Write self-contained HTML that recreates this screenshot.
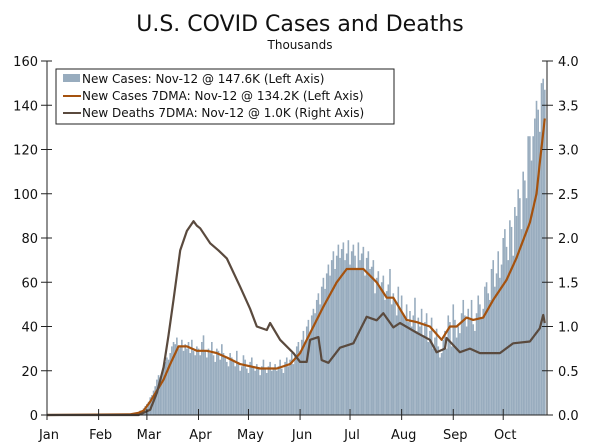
<!DOCTYPE html>
<html><head><meta charset="utf-8"><style>
body{margin:0;background:#fff;}
svg{display:block;font-family:"DejaVu Sans","Liberation Sans",sans-serif;}
</style></head><body>
<svg id="chart" width="600" height="447" viewBox="0 0 600 447" xmlns="http://www.w3.org/2000/svg">
<text x="300" y="31" text-anchor="middle" font-size="22" fill="#111">U.S. COVID Cases and Deaths</text>
<text x="300" y="49" text-anchor="middle" font-size="12" fill="#111">Thousands</text>
<g id="bars"></g>
<g id="lines"></g>
<g id="axes"></g>
<g>
<rect x="56" y="69" width="338" height="55" fill="#fff" stroke="#222" stroke-width="1"/>
<rect x="63" y="74" width="17" height="8" fill="#98acbe"/>
<text x="82" y="83" font-size="12" fill="#111">New Cases: Nov-12 @ 147.6K (Left Axis)</text>
<line x1="63" y1="96" x2="81" y2="96" stroke="#a5520e" stroke-width="2"/>
<text x="82" y="100" font-size="12" fill="#111">New Cases 7DMA: Nov-12 @ 134.2K (Left Axis)</text>
<line x1="63" y1="113" x2="81" y2="113" stroke="#5a4a3e" stroke-width="2"/>
<text x="82" y="117" font-size="12" fill="#111">New Deaths 7DMA: Nov-12 @ 1.0K (Right Axis)</text>
</g>
</svg>
<script>
const barStartDay = 55;
const barValues = [1,2,2,3,4,5,6,
8,9,11,13,16,18,17,
19,21,24,26,25,28,31,
33,32,35,30,31,34,29,
32,30,33,28,34,29,27,
31,30,27,33,36,29,26,
30,28,33,27,24,30,29,
25,32,28,26,24,22,28,
26,25,22,29,24,20,22,
27,25,21,19,24,26,22,
20,23,21,18,22,25,21,
19,22,24,20,21,23,20,
22,25,21,19,24,26,22,
25,28,23,27,31,33,29,
34,38,33,40,43,37,45,
48,46,52,55,50,58,62,
57,64,68,63,70,74,66,
72,77,71,75,78,70,73,
79,68,74,77,72,66,78,
70,73,76,63,71,74,66,
67,70,55,62,65,58,60,
63,52,56,59,66,50,55,
52,45,58,48,54,46,44,
50,42,47,40,45,53,38,
44,40,48,36,42,46,33,
38,44,30,35,39,31,26,
28,34,38,30,45,42,31,
50,43,35,40,37,46,52,
45,40,48,43,52,41,38,
46,54,50,44,48,58,60,
55,52,66,70,58,64,74,
62,68,80,84,76,70,88,
85,72,94,90,102,98,84,
110,106,98,126,126,115,126,
134,142,138,128,150,152,147];
const casesDays = [0,50,55,58,62,66,70,74,79,84,90,96,102,108,116,128,138,146,152,158,166,174,180,190,198,204,208,216,222,230,237,242,246,252,256,262,268,276,282,286,290,294,296,299];
const casesMA = [0,0.3,1,2,6,11,16,23,31,31,29,29,28,26,23,21,21,23,28,37,49,60,66,66,60,53,53,43,42,40,34,40,40,44,43,44,52,61,71,79,87,100,114,134];
const deathDays = [0,55,62,66,70,73,76,80,84,88,90,92,98,103,108,116,122,126,132,134,140,148,152,156,158,163,165,169,176,184,192,198,202,208,212,222,230,234,239,240,248,254,260,272,280,290,296,298,299];
const deathMA = [0,0,0.06,0.25,0.54,0.9,1.3,1.86,2.08,2.19,2.14,2.11,1.94,1.86,1.77,1.45,1.2,1.0,0.96,1.04,0.85,0.7,0.6,0.6,0.85,0.88,0.62,0.59,0.76,0.81,1.11,1.07,1.15,0.99,1.04,0.93,0.85,0.71,0.75,0.87,0.71,0.75,0.7,0.7,0.81,0.83,0.98,1.13,1.04];
const leftTicks = [0,20,40,60,80,100,120,140,160];
const rightTicks = ["0.0","0.5","1.0","1.5","2.0","2.5","3.0","3.5","4.0"];
const monthLabels = ["Jan","Feb","Mar","Apr","May","Jun","Jul","Aug","Sep","Oct"];
const monthDays = [0,31,60,91,121,152,182,213,244,274];

const NS = "http://www.w3.org/2000/svg";
const X0 = 47, X1 = 547, Y0 = 415, YT = 61;
const xS = d => X0 + d * 1.665;
const yL = v => Y0 - v / 160 * (Y0 - YT);
const yR = v => Y0 - v / 4 * (Y0 - YT);
function mk(tag, attrs, parent){const e=document.createElementNS(NS,tag);for(const k in attrs)e.setAttribute(k,attrs[k]);parent.appendChild(e);return e;}

const bars = document.getElementById('bars');
barValues.forEach((v,i)=>{
  const x = xS(barStartDay+i);
  const r = mk('rect',{x:(x-0.8).toFixed(2),y:yL(v).toFixed(2),width:1.6,height:(Y0-yL(v)).toFixed(2),fill:'#98acbe'},bars);
  
  
});
const lines = document.getElementById('lines');
const p1 = mk('polyline',{points:casesDays.map((d,i)=>xS(d).toFixed(1)+','+yL(casesMA[i]).toFixed(1)).join(' '),fill:'none',stroke:'#a5520e','stroke-width':2.2,'stroke-linejoin':'round'},lines);


const p2 = mk('polyline',{points:deathDays.map((d,i)=>xS(d).toFixed(1)+','+yR(deathMA[i]).toFixed(1)).join(' '),fill:'none',stroke:'#5a4a3e','stroke-width':2.2,'stroke-linejoin':'round'},lines);



const ax = document.getElementById('axes');
mk('line',{x1:X0,y1:YT,x2:X0,y2:Y0,stroke:'#222','stroke-width':1},ax);
mk('line',{x1:X1,y1:YT,x2:X1,y2:Y0,stroke:'#222','stroke-width':1},ax);
mk('line',{x1:X0,y1:Y0,x2:X1,y2:Y0,stroke:'#222','stroke-width':1},ax);
leftTicks.forEach(v=>{
  const y=yL(v);
  mk('line',{x1:X0-6,y1:y,x2:X0+5,y2:y,stroke:'#222'},ax);
  const t=mk('text',{x:38,y:y+5,'text-anchor':'end','font-size':13,fill:'#111'},ax);
  t.textContent=v;
  
  
});
rightTicks.forEach((s,i)=>{
  const y=yR(parseFloat(s));
  mk('line',{x1:X1-5,y1:y,x2:X1+6,y2:y,stroke:'#222'},ax);
  const t=mk('text',{x:558,y:y+5,'font-size':13,fill:'#111'},ax);
  t.textContent=s;
  
  
});
monthLabels.forEach((m,i)=>{
  const x=xS(monthDays[i]);
  mk('line',{x1:x,y1:Y0-6,x2:x,y2:Y0+5,stroke:'#222'},ax);
  const t=mk('text',{x:x+2,y:439,'text-anchor':'middle','font-size':13,fill:'#111'},ax);
  t.textContent=m;
  
  
});
</script>
</body></html>
